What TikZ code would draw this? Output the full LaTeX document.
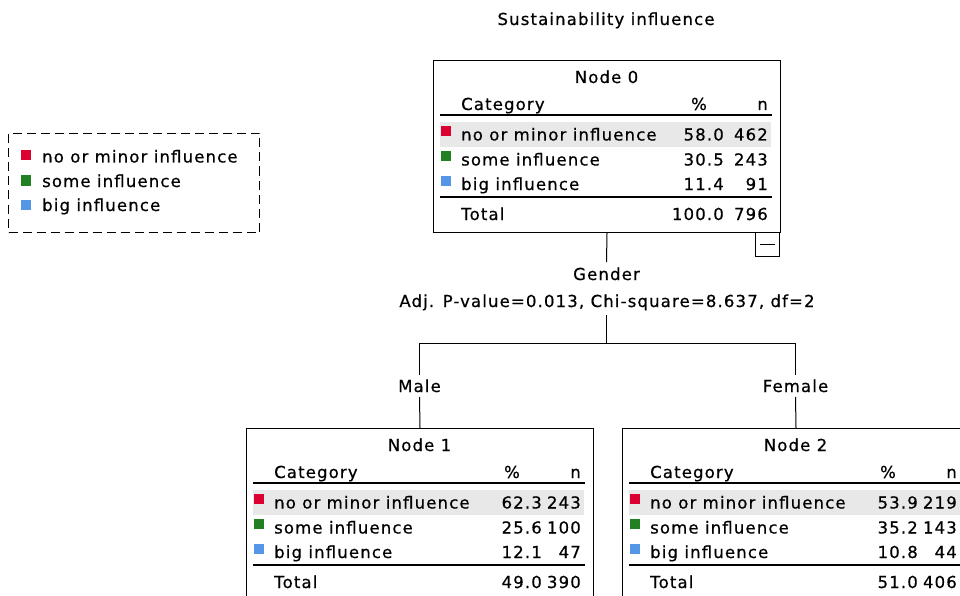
\documentclass[tikz,border=0pt]{standalone}
\usepackage{fontspec}
\setmainfont[LetterSpace=7,FakeBold=0.6]{DejaVu Sans}
\definecolor{catRed}{RGB}{220,0,50}
\definecolor{catGreen}{RGB}{34,128,34}
\definecolor{catBlue}{RGB}{85,150,230}
\definecolor{bandGray}{RGB}{232,232,232}

% percent column right edge inside a tree node
\newcommand{\pctright}{296}

% one tree node: #1 number, #2..#7 rows (percent, n), #8 total percent, #9 total n
\newcommand{\statnode}[9]{%
  \node[treebox] (n#1) at (0,0) {};
  \fill[bandGray] (7,62) rectangle (338,87);
  \node[txt] (n#1-title) at (173.5,23) {Node #1};
  \node[lt] (n#1-cat) at (28,50) {Category};
  \node[txt] (n#1-pcth) at (266,50) {\%};
  \node[rt] (n#1-nh) at (335,50) {n};
  \draw[rulethick] (7,55) -- (339,55);
  \node[swatch, fill=catRed] (n#1-s1) at (13,71) {};
  \node[lt] (n#1-l1) at (28,80.5) {no or minor influence};
  \node[rt] (n#1-p1) at (\pctright,80.5) {#2};
  \node[rt] (n#1-c1) at (335,80.5) {#3};
  \node[swatch, fill=catGreen] (n#1-s2) at (13,96) {};
  \node[lt] (n#1-l2) at (28,105.5) {some influence};
  \node[rt] (n#1-p2) at (\pctright,105.5) {#4};
  \node[rt] (n#1-c2) at (335,105.5) {#5};
  \node[swatch, fill=catBlue] (n#1-s3) at (13,121) {};
  \node[lt] (n#1-l3) at (28,130) {big influence};
  \node[rt] (n#1-p3) at (\pctright,130) {#6};
  \node[rt] (n#1-c3) at (335,130) {#7};
  \draw[rulethick] (7,137) -- (339,137);
  \node[lt] (n#1-lt) at (28,160) {Total};
  \node[rt] (n#1-pt) at (\pctright,160) {#8};
  \node[rt] (n#1-ct) at (335,160) {#9};
}

\begin{document}
\begin{tikzpicture}[x=1pt,y=-1pt,
  every node/.style={inner sep=0pt, font=\fontsize{16.5}{19}\selectfont},
  txt/.style={anchor=base},
  lt/.style={anchor=base west},
  rt/.style={anchor=base east},
  treebox/.style={draw, line width=1pt, minimum width=347pt, minimum height=172pt, anchor=north west},
  rulethick/.style={line width=1.5pt},
  swatch/.style={minimum size=10pt},
  connector/.style={line width=1pt},
  legendframe/.style={draw, line width=1pt, dash pattern=on 9pt off 5pt, minimum width=251pt, minimum height=99pt, anchor=north west},
  togglebox/.style={draw, line width=1pt, fill=white, minimum size=24pt}]

\useasboundingbox (0,0) rectangle (960,596);
\clip (0,0) rectangle (960,596);
\fill[white] (0,0) rectangle (960,596);

% heading
\node[txt] (heading) at (606,25) {Sustainability influence};

% legend
\node[legendframe] (legend) at (8,133) {};
\node[swatch, fill=catRed] (lg-s1) at (26,155.5) {};
\node[lt] (lg-l1) at (42,162.5) {no or minor influence};
\node[swatch, fill=catGreen] (lg-s2) at (26,180.5) {};
\node[lt] (lg-l2) at (42,187) {some influence};
\node[swatch, fill=catBlue] (lg-s3) at (26,205) {};
\node[lt] (lg-l3) at (42,211) {big influence};

% tree nodes
\begin{scope}[shift={(433,60)}]
  \renewcommand{\pctright}{291}
  \statnode{0}{58.0}{462}{30.5}{243}{11.4}{91}{100.0}{796}
  \node[togglebox] (n0-toggle) at (334.5,184.5) {};
  \draw[line width=1pt] ([xshift=5pt]n0-toggle.west) -- ([xshift=-5pt]n0-toggle.east);
\end{scope}
\begin{scope}[shift={(246,428)}]
  \statnode{1}{62.3}{243}{25.6}{100}{12.1}{47}{49.0}{390}
\end{scope}
\begin{scope}[shift={(622,428)}]
  \statnode{2}{53.9}{219}{35.2}{143}{10.8}{44}{51.0}{406}
\end{scope}

% split labels
\node[txt] (gender) at (606.5,280) {Gender};
\node[txt] (stat) at (607,307) {Adj. P-value=0.013, Chi-square=8.637, df=2};
\node[txt] (male) at (419.5,392) {Male};
\node[txt] (female) at (795.5,392) {Female};

% connector anchor points
\coordinate (gender-in) at (606.5,262);
\coordinate (stat-out) at (606.5,315);
\coordinate (fork) at (606.5,343);
\coordinate (fork-l) at (419.5,343);
\coordinate (fork-r) at (795.5,343);
\coordinate (male-in) at (419.5,375);
\coordinate (female-in) at (795.5,375);
\coordinate (male-out) at (419.5,397);
\coordinate (female-out) at (795.5,397);

% connectors
\draw[connector] (n0.south) -- (gender-in);
\draw[connector] (stat-out) -- (fork);
\draw[connector] (male-in) -- (fork-l) -- (fork-r) -- (female-in);
\draw[connector] (male-out) -- (n1.north);
\draw[connector] (female-out) -- (n2.north);
\end{tikzpicture}
\end{document}
